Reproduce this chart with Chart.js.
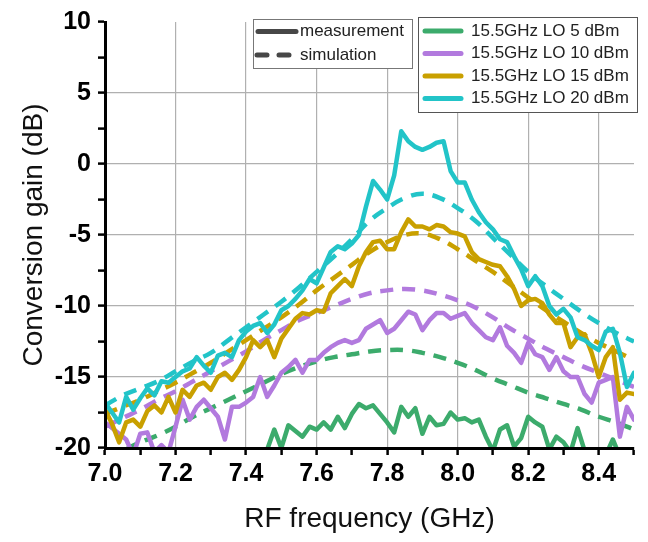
<!DOCTYPE html>
<html>
<head>
<meta charset="utf-8">
<script src="https://cdn.jsdelivr.net/npm/chart.js@4.4.1/dist/chart.umd.min.js"></script>
<style>
  html, body { margin: 0; padding: 0; background: #fff; }
  #c { display: block; }
</style>
</head>
<body>
<canvas id="c" width="648" height="542"></canvas>
<script>
// ---------- data ----------
const measFreq = [7.00,7.02,7.04,7.06,7.08,7.10,7.12,7.14,7.16,7.18,7.20,7.22,7.24,7.26,7.28,7.30,7.32,7.34,7.36,7.38,7.40,7.42,7.44,7.46,7.48,7.50,7.52,7.54,7.56,7.58,7.60,7.62,7.64,7.66,7.68,7.70,7.72,7.74,7.76,7.78,7.80,7.82,7.84,7.86,7.88,7.90,7.92,7.94,7.96,7.98,8.00,8.02,8.04,8.06,8.08,8.10,8.12,8.14,8.16,8.18,8.20,8.22,8.24,8.26,8.28,8.30,8.32,8.34,8.36,8.38,8.40,8.42,8.44,8.46,8.48,8.50];

const meas20dBm = [-16.8,-17.5,-18.2,-16.4,-17.3,-16.5,-15.8,-16.3,-15.3,-15.4,
  -15.0,-14.6,-14.4,-13.6,-14.2,-14.7,-13.5,-13.3,-13.6,-12.4,
  -11.8,-11.4,-11.2,-11.9,-11.3,-10.3,-10.0,-9.5,-8.9,-8.1,
  -8.4,-7.3,-6.2,-5.8,-6.0,-5.6,-5.0,-3.0,-1.2,-1.8,
  -2.5,-0.8,2.3,1.6,1.2,1.0,1.2,1.5,1.6,-0.5,
  -1.3,-1.3,-2.5,-3.4,-4.1,-4.6,-5.3,-5.5,-6.5,-7.4,
  -8.6,-7.9,-8.6,-10.0,-10.6,-10.2,-10.8,-12.2,-12.4,-12.8,
  -13.1,-11.8,-11.6,-13.3,-15.7,-14.7];

const meas15dBm = [-17.3,-18.3,-19.6,-18.2,-18.0,-18.5,-17.4,-17.0,-17.5,-16.4,
  -17.5,-15.9,-16.4,-15.6,-15.4,-15.9,-15.0,-14.7,-15.2,-14.5,
  -13.6,-12.4,-12.9,-12.4,-13.6,-12.3,-11.6,-10.9,-10.5,-10.6,
  -10.3,-10.4,-9.1,-8.6,-8.1,-8.6,-7.2,-6.2,-5.5,-5.4,
  -6.0,-6.0,-4.8,-3.9,-4.4,-4.4,-4.6,-4.3,-4.4,-4.8,
  -4.9,-5.1,-6.2,-6.7,-6.9,-7.1,-7.2,-7.9,-8.8,-10.0,
  -9.6,-9.5,-9.8,-10.6,-11.2,-11.2,-12.9,-12.2,-12.0,-13.3,
  -15.0,-13.6,-12.9,-16.6,-16.1,-16.2];

const meas10dBm = [-18.2,-18.6,-19.0,-19.4,-20.5,-19.0,-18.9,-20.3,-19.8,-20.3,
  -18.5,-16.6,-18.0,-17.1,-16.6,-17.2,-17.8,-19.4,-17.1,-17.1,
  -16.8,-16.4,-15.0,-16.4,-15.6,-14.7,-14.3,-13.8,-14.7,-13.8,
  -13.8,-13.3,-12.9,-12.6,-12.4,-12.6,-12.4,-11.6,-11.3,-11.0,
  -11.9,-11.6,-11.0,-10.4,-10.6,-11.7,-11.0,-10.5,-10.5,-10.9,
  -10.7,-10.5,-11.2,-11.7,-12.2,-12.4,-11.5,-12.8,-13.3,-14.0,
  -12.6,-13.4,-13.6,-14.5,-13.6,-14.6,-15.0,-15.0,-16.2,-16.8,
  -15.4,-15.2,-15.0,-19.2,-17.1,-18.0];

const meas5dBm = [-21.5,-21.8,-22.0,-21.6,-22.2,-21.9,-21.4,-21.8,-21.5,-21.2,
  -21.6,-21.3,-21.0,-21.4,-20.9,-21.2,-20.8,-20.5,-20.9,-20.6,
  -20.8,-20.5,-20.6,-20.1,-18.7,-20.0,-18.4,-18.8,-19.2,-18.5,
  -18.7,-18.2,-18.7,-17.8,-18.6,-17.6,-16.9,-17.2,-17.0,-17.6,
  -18.2,-18.9,-17.1,-17.8,-17.2,-19.0,-17.8,-18.4,-18.3,-17.5,
  -18.0,-17.9,-18.2,-18.0,-19.2,-20.2,-18.7,-18.4,-19.9,-19.3,
  -17.8,-18.2,-18.5,-20.1,-19.2,-19.6,-20.3,-18.6,-20.2,-20.4,
  -20.3,-20.5,-19.4,-20.6,-21.0,-21.2];

const simFreq = [7.00,7.05,7.10,7.15,7.20,7.25,7.30,7.35,7.40,7.45,7.50,7.55,7.60,7.65,7.70,7.75,7.80,7.85,7.90,7.95,8.00,8.05,8.10,8.15,8.20,8.25,8.30,8.35,8.40,8.45,8.50];
const sim20dBm = [-17.0,-16.3,-15.8,-15.3,-14.6,-13.9,-13.3,-12.4,-11.5,-10.6,-9.7,-8.7,-7.6,-6.5,-5.3,-4.0,-3.1,-2.4,-2.1,-2.4,-3.1,-4.0,-5.2,-6.4,-7.6,-8.6,-9.5,-10.4,-11.2,-11.9,-12.5];
const sim15dBm = [-17.6,-17.1,-16.6,-16.0,-15.4,-14.7,-14.0,-13.2,-12.4,-11.6,-10.8,-9.9,-8.9,-8.0,-7.1,-6.2,-5.5,-5.0,-4.9,-5.3,-6.0,-6.8,-7.6,-8.5,-9.4,-10.3,-11.1,-11.9,-12.6,-13.2,-13.8];
const sim10dBm = [-18.5,-17.9,-17.3,-16.6,-16.0,-15.3,-14.6,-13.9,-13.2,-12.4,-11.7,-11.0,-10.5,-10.0,-9.5,-9.1,-8.9,-8.8,-8.9,-9.2,-9.6,-10.1,-10.8,-11.6,-12.3,-13.0,-13.6,-14.2,-14.7,-15.2,-15.7];
const sim5dBm = [-20.8,-20.2,-19.6,-19.1,-18.5,-17.8,-17.2,-16.6,-16.0,-15.4,-14.8,-14.3,-13.9,-13.6,-13.4,-13.2,-13.1,-13.1,-13.3,-13.6,-14.0,-14.5,-15.1,-15.6,-16.1,-16.5,-16.9,-17.3,-17.8,-18.2,-18.7];

const seriesLabels = ['15.5GHz LO 5 dBm','15.5GHz LO 10 dBm','15.5GHz LO 15 dBm','15.5GHz LO 20 dBm'];
const typeLabels = ['measurement','simulation'];

const xTitle = 'RF frequency (GHz)';
const yTitle = 'Conversion gain (dB)';

// ---------- styling ----------
const COLORS = ['#3cab6c','#b27ade','#c9a000','#22c4c8'];
const FONT = "'Liberation Sans', Arial, sans-serif";

function pts(xs, ys) { return xs.map((x, i) => ({ x: x, y: ys[i] })); }

const measSets = [meas5dBm, meas10dBm, meas15dBm, meas20dBm];
const simSets = [sim5dBm, sim10dBm, sim15dBm, sim20dBm];

const datasets = [];
for (let i = 3; i >= 0; i--) {
  datasets.push({
    label: seriesLabels[i] + ' meas',
    data: pts(measFreq, measSets[i]),
    borderColor: COLORS[i], borderWidth: 4.5, pointRadius: 0, tension: 0,
    borderJoinStyle: 'round', borderCapStyle: 'round', fill: false
  });
}
for (let i = 3; i >= 0; i--) {
  datasets.push({
    label: seriesLabels[i] + ' sim',
    data: pts(simFreq, simSets[i]),
    borderColor: COLORS[i], borderWidth: 4.5, pointRadius: 0, tension: 0.4,
    borderDash: [13, 9], borderCapStyle: 'butt', fill: false
  });
}

const legendPlugin = {
  id: 'dualLegend',
  afterDraw(chart) {
    const c = chart.ctx;
    c.save();
    c.font = '17px ' + FONT;
    c.textBaseline = 'middle';
    c.textAlign = 'left';
    // box 1: line style legend
    c.fillStyle = '#fff';
    c.fillRect(253.5, 19.5, 159, 49);
    c.strokeStyle = '#777';
    c.lineWidth = 1;
    c.strokeRect(253.5, 19.5, 159, 49);
    const rows1 = [31.5, 55];
    c.lineWidth = 5;
    c.strokeStyle = '#474747';
    c.lineCap = 'round';
    c.beginPath(); c.moveTo(258, rows1[0]); c.lineTo(296, rows1[0]); c.stroke();
    c.setLineDash([10, 12]);
    c.beginPath(); c.moveTo(257, rows1[1]); c.lineTo(292, rows1[1]); c.stroke();
    c.setLineDash([]);
    c.fillStyle = '#222';
    c.fillText(typeLabels[0], 300, rows1[0]);
    c.fillText(typeLabels[1], 300, rows1[1]);
    // box 2: series legend
    c.fillStyle = '#fff';
    c.fillRect(418.5, 17.5, 219, 95);
    c.strokeStyle = '#555';
    c.lineWidth = 1;
    c.strokeRect(418.5, 17.5, 219, 95);
    const rows2 = [31, 53.5, 76, 98.5];
    for (let i = 0; i < 4; i++) {
      c.strokeStyle = COLORS[i];
      c.lineWidth = 5;
      c.lineCap = 'round';
      c.beginPath(); c.moveTo(425, rows2[i]); c.lineTo(461, rows2[i]); c.stroke();
      c.fillStyle = '#222';
      c.fillText(seriesLabels[i], 471, rows2[i]);
    }
    c.restore();
  }
};

const isMajorX = v => Math.round(v * 10) % 2 === 0;
const isMajorY = v => Math.abs(Math.round(v * 10)) % 50 === 0;

new Chart(document.getElementById('c'), {
  type: 'line',
  data: { datasets: datasets },
  plugins: [legendPlugin],
  options: {
    responsive: false,
    animation: false,
    events: [],
    layout: { padding: { left: 0, right: 14, top: 22, bottom: 0 } },
    plugins: { legend: { display: false }, tooltip: { enabled: false } },
    scales: {
      x: {
        type: 'linear', min: 7.0, max: 8.5,
        afterFit(s) { s.height = 94; },
        ticks: {
          stepSize: 0.1, autoSkip: false, maxRotation: 0, minRotation: 0,
          padding: 4, color: '#000',
          font: { family: FONT, size: 25, weight: 'bold' },
          callback: v => isMajorX(v) ? (Math.round(v * 10) / 10).toFixed(1) : ''
        },
        grid: {
          color: ctx => (ctx.tick && isMajorX(ctx.tick.value) && ctx.tick.value > 7.05) ? '#b0b0b0' : 'rgba(0,0,0,0)',
          lineWidth: 1.2,
          tickColor: '#000', tickWidth: 2.5, tickLength: 7
        },
        border: { display: true, color: '#000', width: 3, z: 1 },
        title: {
          display: true, text: xTitle, color: '#111',
          font: { family: FONT, size: 28, weight: 'normal' },
          padding: { top: 0, bottom: 6 }
        }
      },
      y: {
        type: 'linear', min: -20, max: 10,
        afterFit(s) { s.width = 105; },
        ticks: {
          stepSize: 2.5, autoSkip: false, padding: 7, color: '#000',
          font: { family: FONT, size: 25, weight: 'bold' },
          callback: v => isMajorY(v) ? String(Math.round(v)) : ''
        },
        grid: {
          color: ctx => (ctx.tick && isMajorY(ctx.tick.value) && ctx.tick.value < 9 && ctx.tick.value > -19) ? '#b0b0b0' : 'rgba(0,0,0,0)',
          lineWidth: 1.2,
          tickColor: '#000', tickWidth: 2.5, tickLength: 7
        },
        border: { display: true, color: '#000', width: 3, z: 1 },
        title: {
          display: true, text: yTitle, color: '#111',
          font: { family: FONT, size: 28, weight: 'normal' },
          padding: { top: 17, bottom: 0 }
        }
      }
    }
  }
});
</script>
</body>
</html>
